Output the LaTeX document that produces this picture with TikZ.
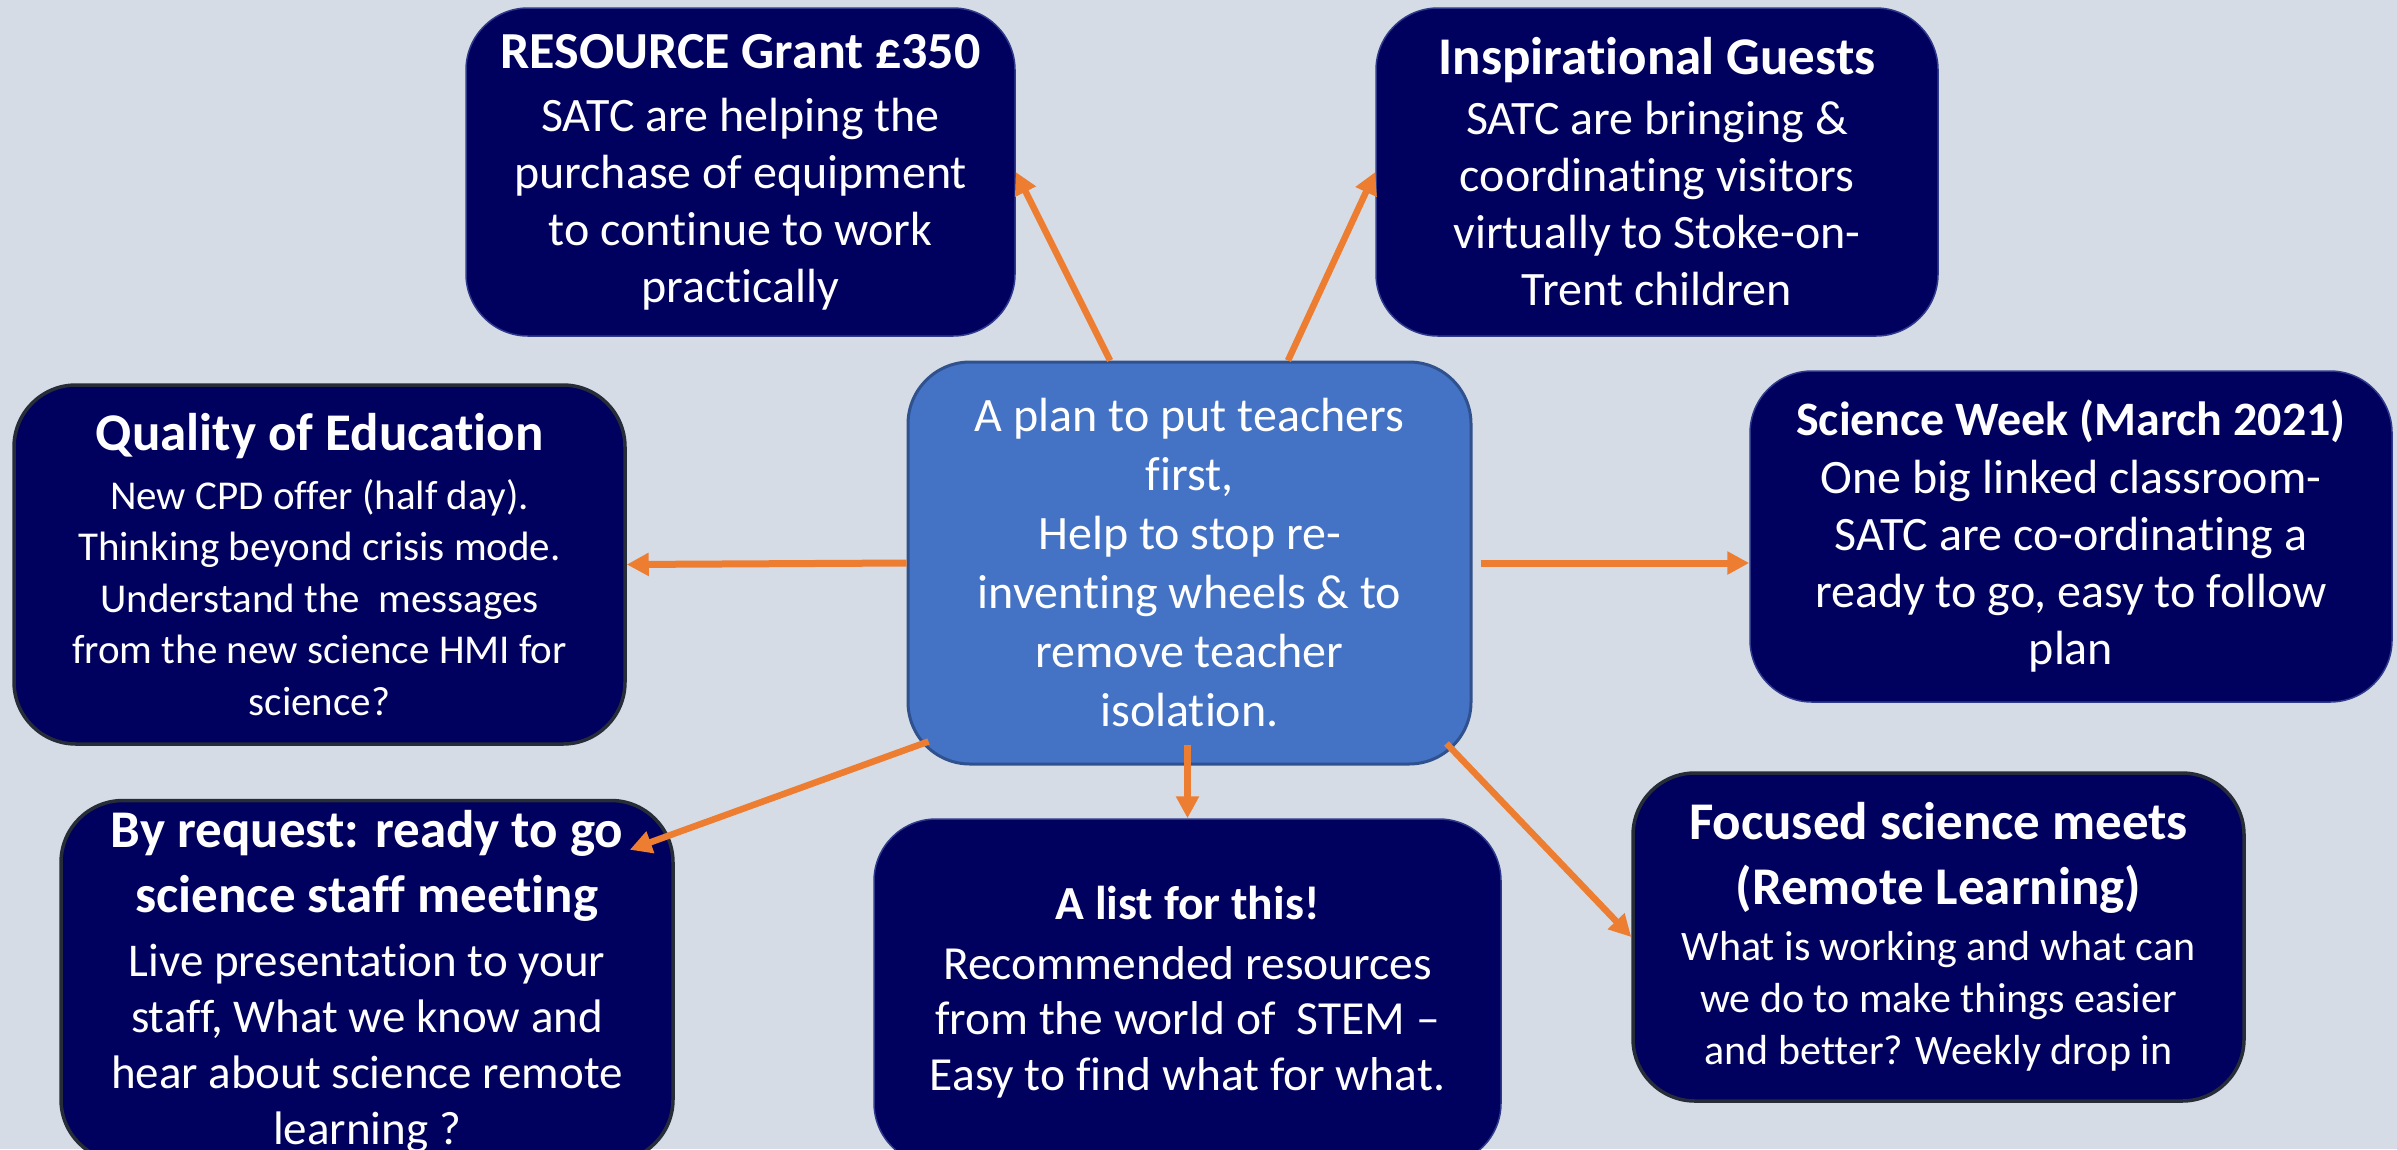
\documentclass[tikz,border=0pt]{standalone}
\usepackage{fontspec}
\setmainfont{Carlito}[Ligatures={NoCommon}]
\usetikzlibrary{arrows.meta,calc}
\definecolor{bg}{HTML}{D6DCE5}
\definecolor{navy}{HTML}{00005F}
\definecolor{navyedge}{HTML}{2E3A8C}
\definecolor{darkedge}{HTML}{262C38}
\definecolor{mid}{HTML}{4472C4}
\definecolor{midedge}{HTML}{2F528F}
\definecolor{orng}{HTML}{ED7D31}
\tikzset{
  box/.style={rounded corners=62pt, fill=navy, draw=navyedge, line width=1.5pt, text=white, align=center, inner sep=0pt},
  darkbox/.style={box, draw=darkedge, line width=3.5pt},
  centrebox/.style={box, fill=mid, draw=midedge, line width=3pt},
  arr/.style={draw=orng, line width=6.5pt, -{Triangle[length=22pt,width=22pt]}, shorten <=0pt},
  harr/.style={arr, line width=7pt},
}
\begin{document}
\begin{tikzpicture}[x=1pt,y=-1pt]
\clip (0,0) rectangle (2397,1149);
\fill[bg] (0,0) rectangle (2397,1149);

% central box
\node[centrebox, minimum width=563pt, minimum height=402pt, font={\fontsize{48}{59}\selectfont}] (C) at (1189.5,563)
 {A plan to put teachers\\first,\\Help to stop re-\\inventing wheels \& to\\remove teacher\\isolation.};

% RESOURCE
\node[box, minimum width=549pt, minimum height=328pt, font={\fontsize{48}{57}\selectfont}] (R) at (740.5,172)
 {{\fontsize{52}{60}\selectfont\bfseries RESOURCE Grant £350}\\[6pt]SATC are helping the\\purchase of equipment\\to continue to work\\practically};

% Inspirational
\node[box, minimum width=562pt, minimum height=328pt, font={\fontsize{48}{57}\selectfont}] (I) at (1657,172)
 {{\fontsize{53}{62}\selectfont\bfseries Inspirational Guests}\\[3pt]SATC are bringing \&\\coordinating visitors\\virtually to Stoke-on-\\Trent children};

% Quality
\node[darkbox, minimum width=611pt, minimum height=359pt, font={\fontsize{41}{51.5}\selectfont}] (Q) at (319.5,564.5)
 {{\fontsize{53}{62}\selectfont\bfseries Quality of Education}\\[7pt]New CPD offer (half day).\\Thinking beyond crisis mode.\\Understand the\ \ messages\\from the new science HMI for\\science?};

% Science week
\node[box, minimum width=642pt, minimum height=331pt, font={\fontsize{48}{57}\selectfont}] (S) at (2071,536.5)
 {\textbf{Science Week (March 2021)}\\[1pt]One big linked classroom-\\SATC are co-ordinating a\\ready to go, easy to follow\\plan};

% By request
\node[darkbox, minimum width=612pt, minimum height=361pt, font={\fontsize{47}{56}\selectfont}] (B) at (367,981)
 {{\fontsize{53}{63}\selectfont\bfseries By request: ready to go}\\[9pt]{\fontsize{53}{63}\selectfont\bfseries science staff meeting}\\[8pt]Live presentation to your\\staff, What we know and\\hear about science remote\\learning ?};

% A list
\node[box, minimum width=627pt, minimum height=346pt, font={\fontsize{47.5}{55.5}\selectfont}] (L) at (1187.5,992)
 {{\fontsize{47.5}{57}\selectfont\bfseries A list for this!}\\[4pt]Recommended resources\\from the world of\ \ STEM –\\Easy to find what for what.};

% Focused
\node[darkbox, minimum width=611pt, minimum height=328pt, font={\fontsize{42}{52}\selectfont}] (F) at (1938.5,937)
 {{\fontsize{53}{63}\selectfont\bfseries Focused science meets}\\[13pt]{\fontsize{53}{63}\selectfont\bfseries (Remote Learning)}\\[4pt]What is working and what can\\we do to make things easier\\and better? Weekly drop in};

% connectors
\draw[arr] ($(C.north)+(-79.5,0)$) -- (R.east);
\draw[arr] ($(C.north)+(98.5,0)$) -- (I.west);
\draw[harr] (C.west) -- (Q.east);
\draw[harr] ($(C.east)+(8,0)$) -- (C.east -| S.west);
\draw[arr] ($(C.south west)+(22,-24)$) -- ($(B.north east)+(-45,51)$);
\draw[arr] ($(C.south)+(-2,-21)$) -- (L.north);
\draw[arr] ($(C.south east)+(-26,-22)$) -- (F.west);
\end{tikzpicture}
\end{document}
